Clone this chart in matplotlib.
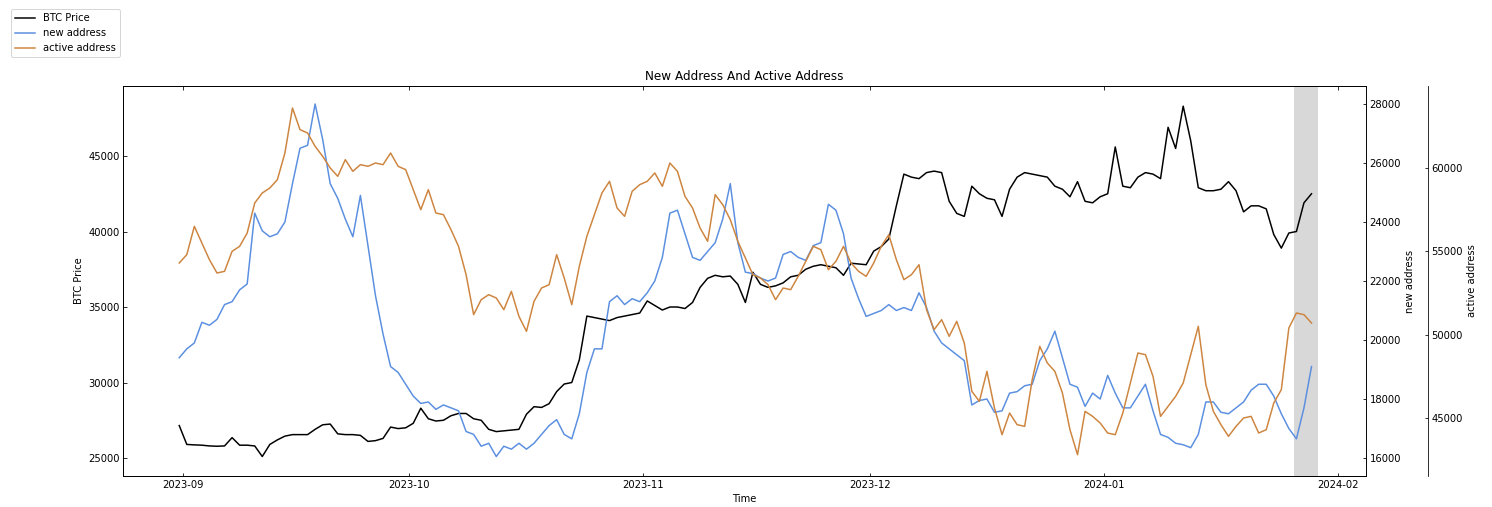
import pandas as pd
import numpy as np
import matplotlib
matplotlib.use('Agg')
import matplotlib.pyplot as plt

plt.rcParams['xtick.direction'] = 'in'
plt.rcParams['ytick.direction'] = 'in'

# daily readings, 2023-08-31 .. 2024-01-28
start = '2023-08-31 12:00'

btc_price = [
    27150,
    # Sep
    25900, 25870, 25850, 25800, 25780, 25800, 26350, 25850, 25850, 25800,
    25100, 25900, 26200, 26450, 26550, 26550, 26550, 26900, 27200, 27250,
    26600, 26550, 26550, 26500, 26100, 26150, 26300, 27050, 26950, 27000,
    # Oct
    27300, 28300, 27600, 27450, 27500, 27800, 27950, 27950, 27600, 27500,
    26900, 26750, 26800, 26850, 26900, 27900, 28400, 28350, 28600, 29400,
    29900, 30000, 31500, 34400, 34300, 34200, 34100, 34300, 34400, 34500, 34600,
    # Nov
    35400, 35100, 34800, 35000, 35000, 34900, 35300, 36300, 36900, 37100,
    37000, 37050, 36500, 35300, 37300, 36500, 36300, 36400, 36600, 37000,
    37100, 37500, 37700, 37800, 37700, 37600, 37100, 37900, 37850, 37800,
    # Dec
    38700, 39000, 39500, 41700, 43800, 43600, 43500, 43900, 44000, 43900,
    42000, 41200, 41000, 43000, 42500, 42200, 42100, 41000, 42800, 43600,
    43900, 43800, 43700, 43600, 43000, 42800, 42300, 43300, 42000, 41900, 42300,
    # Jan
    42500, 45600, 43000, 42900, 43600, 43900, 43800, 43500, 46900, 45500,
    48300, 46000, 42900, 42700, 42700, 42800, 43300, 42700, 41300, 41700,
    41700, 41500, 39800, 38900, 39900, 40000, 41900, 42500,
]

new_address = [
    19400,
    # Sep
    19700, 19900, 20600, 20500, 20700, 21200, 21300, 21700, 21900, 24300,
    23700, 23500, 23600, 24000, 25300, 26500, 26600, 28000, 26800, 25300,
    24800, 24100, 23500, 24900, 23200, 21500, 20200, 19100, 18900, 18500,
    # Oct
    18100, 17850, 17900, 17650, 17800, 17700, 17600, 16900, 16800, 16400,
    16500, 16050, 16400, 16300, 16500, 16300, 16500, 16800, 17100, 17300,
    16800, 16650, 17500, 18900, 19700, 19700, 21300, 21500, 21200, 21400, 21300,
    # Nov
    21600, 22000, 22800, 24300, 24400, 23600, 22800, 22700, 23000, 23300,
    24100, 25300, 23300, 22300, 22250, 22100, 22000, 22100, 22900, 23000,
    22800, 22700, 23200, 23300, 24600, 24400, 23600, 22100, 21400, 20800,
    # Dec
    20900, 21000, 21200, 21000, 21100, 21000, 21600, 21100, 20300, 19900,
    19700, 19500, 19300, 17800, 17950, 18000, 17550, 17600, 18200, 18250,
    18450, 18500, 19300, 19700, 20300, 19400, 18500, 18400, 17750, 18200, 18000,
    # Jan
    18800, 18200, 17700, 17700, 18100, 18500, 17600, 16800, 16700, 16500,
    16450, 16350, 16800, 17900, 17900, 17550, 17500, 17700, 17900, 18300,
    18500, 18500, 18100, 17500, 17000, 16650, 17700, 19100,
]

active_address = [
    54300,
    # Sep
    54800, 56500, 55500, 54500, 53700, 53800, 55000, 55300, 56100, 57900,
    58500, 58800, 59300, 60900, 63600, 62300, 62100, 61300, 60700, 60000,
    59500, 60500, 59800, 60200, 60100, 60300, 60200, 60900, 60100, 59900,
    # Oct
    58700, 57500, 58700, 57300, 57200, 56300, 55300, 53600, 51200, 52100,
    52400, 52200, 51500, 52600, 51100, 50200, 52000, 52800, 53000, 54800,
    53400, 51800, 54100, 55900, 57200, 58500, 59200, 57600, 57100, 58600, 59000,
    # Nov
    59200, 59700, 58900, 60300, 59800, 58300, 57600, 56400, 55600, 58400,
    57800, 56900, 55600, 54600, 53600, 53400, 53000, 52100, 52800, 52700,
    53500, 54400, 55300, 55100, 53900, 54400, 55300, 54300, 53800, 53500,
    # Dec
    54300, 55300, 56000, 54500, 53300, 53600, 54200, 51500, 50300, 50900,
    49900, 50800, 49500, 46600, 46000, 47800, 45600, 44000, 45300, 44600,
    44500, 47300, 49300, 48300, 47800, 46500, 44300, 42800, 45400, 45100, 44700,
    # Jan
    44100, 44000, 45300, 47100, 48900, 48800, 47500, 45100, 45700, 46300,
    47100, 48800, 50500, 47000, 45400, 44600, 43900, 44500, 45000, 45100,
    44100, 44300, 45900, 46700, 50400, 51300, 51200, 50700,
]

span_start = '2024-01-26 04:00'
span_end = '2024-01-29 08:00'

dates_btc = pd.date_range(start, periods=len(btc_price), freq='D')
dates_new = pd.date_range(start, periods=len(new_address), freq='D')
dates_act = pd.date_range(start, periods=len(active_address), freq='D')

# low dpi so default font sizes come out as small as in the original
dpi = 72
fig = plt.figure(figsize=(1492 / dpi, 507 / dpi), dpi=dpi)
ax = fig.add_axes([0.0824, 0.0611, 0.8331, 0.7693])
ax2 = ax.twinx()
ax3 = ax.twinx()
ax3.spines['right'].set_position(('axes', 1.05))

l1, = ax.plot(dates_btc, btc_price, color='black', label='BTC Price')
l2, = ax2.plot(dates_new, new_address, color='#5b8fe0', label='new address')
l3, = ax3.plot(dates_act, active_address, color='#cd853f', label='active address')

ax.axvspan(pd.Timestamp(span_start), pd.Timestamp(span_end), color='gray', alpha=0.3, lw=0)

ax.set_xlim(pd.Timestamp('2023-08-24 01:00'), pd.Timestamp('2024-02-04 17:00'))
ax.set_ylim(23808, 49636)
ax2.set_ylim(15390, 28610)
ax3.set_ylim(41520, 64920)

ax.tick_params(top=True)
ax.set_xlabel('Time')
ax.set_ylabel('BTC Price')
ax2.set_ylabel('new address')
ax3.set_ylabel('active address')
ax.set_title('New Address And Active Address')

fig.legend(handles=[l1, l2, l3], loc='upper left', bbox_to_anchor=(0.0074, 0.982),
           borderaxespad=0)

fig.savefig('out.png', dpi=dpi)
